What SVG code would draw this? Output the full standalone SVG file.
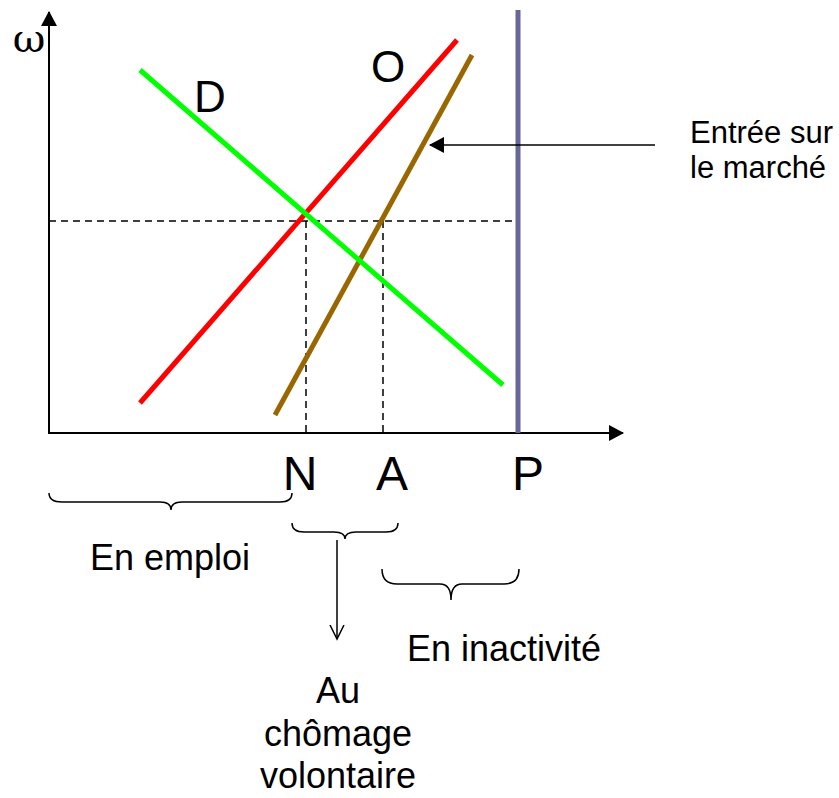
<svg xmlns="http://www.w3.org/2000/svg" width="839" height="798" viewBox="0 0 839 798">
<style>
.t{font-family:"Liberation Sans",Arial,sans-serif;fill:#000}
.ax{stroke:#000;stroke-width:2;fill:none}
.dash{stroke:#000;stroke-width:1.5;stroke-dasharray:7,5;fill:none}
.br{stroke:#000;stroke-width:1.5;fill:none}
</style>
<defs>
<marker id="ah" markerWidth="16" markerHeight="16" refX="14" refY="8" orient="auto" markerUnits="userSpaceOnUse">
<path d="M0,0 L15,8 L0,16 Z" fill="#000"/>
</marker>
<marker id="open" markerWidth="16" markerHeight="16" refX="14" refY="8" orient="auto" markerUnits="userSpaceOnUse">
<path d="M0,1 L14,8 L0,15" fill="none" stroke="#000" stroke-width="1.5"/>
</marker>
</defs>
<rect width="839" height="798" fill="#fff"/>
<g id="axes">
<line class="ax" x1="49" y1="433" x2="49" y2="12" marker-end="url(#ah)"/>
<line class="ax" x1="48" y1="433" x2="623" y2="433" marker-end="url(#ah)"/>
<text x="29" y="52" text-anchor="middle" font-family="'DejaVu Serif','Liberation Serif',serif" font-size="40">ω</text>
</g>
<g id="guides">
<line class="dash" x1="49" y1="221" x2="518" y2="221"/>
<line class="dash" x1="306" y1="221" x2="306" y2="433"/>
<line class="dash" x1="383" y1="221" x2="383" y2="433"/>
</g>
<g id="curve-P"><line x1="518" y1="10" x2="518" y2="433" stroke="#666699" stroke-width="5"/></g>
<g id="curve-O"><line x1="140" y1="403" x2="457" y2="40" stroke="#ff0000" stroke-width="5"/></g>
<g id="curve-A"><line x1="275" y1="415" x2="472" y2="55" stroke="#996600" stroke-width="5"/></g>
<g id="curve-D"><line x1="140" y1="70" x2="503" y2="385" stroke="#00ff00" stroke-width="5"/></g>
<g id="labels">
<text class="t" x="388" y="82" text-anchor="middle" font-size="44">O</text>
<text class="t" x="210" y="112" text-anchor="middle" font-size="44">D</text>
<text class="t" x="300" y="490" text-anchor="middle" font-size="48">N</text>
<text class="t" x="392" y="490" text-anchor="middle" font-size="48">A</text>
<text class="t" x="528" y="490" text-anchor="middle" font-size="48">P</text>
</g>
<g id="connectors">
<line x1="655" y1="145" x2="430" y2="145" stroke="#000" stroke-width="1.5" marker-end="url(#ah)"/>
<line x1="337" y1="540" x2="337" y2="639" stroke="#000" stroke-width="1.5" marker-end="url(#open)"/>
</g>
<g id="entree">
<text class="t" font-size="31"><tspan x="690" y="143">Entrée sur</tspan><tspan x="690" y="178">le marché</tspan></text>
</g>
<g id="brace-emploi">
<path class="br" d="M49,493 Q49,502 62,502 L160,502 Q171,502 171,510 Q171,502 182,502 L280,502 Q292,502 292,493"/>
<text class="t" x="170" y="570" text-anchor="middle" font-size="36">En emploi</text>
</g>
<g id="brace-chomage">
<path class="br" d="M292,523 Q292,532 304,532 L334,532 Q345,532 345,539 Q345,532 356,532 L386,532 Q398,532 398,523"/>
<text class="t" font-size="36" text-anchor="middle"><tspan x="338" y="703">Au</tspan><tspan x="338" y="746">chômage</tspan><tspan x="338" y="788">volontaire</tspan></text>
</g>
<g id="brace-inactivite">
<path class="br" d="M382,569 Q382,584 397,584 L440,584 Q451,584 451,600 Q451,584 462,584 L504,584 Q519,584 519,569"/>
<text class="t" x="504" y="661" text-anchor="middle" font-size="36">En inactivité</text>
</g>
</svg>
